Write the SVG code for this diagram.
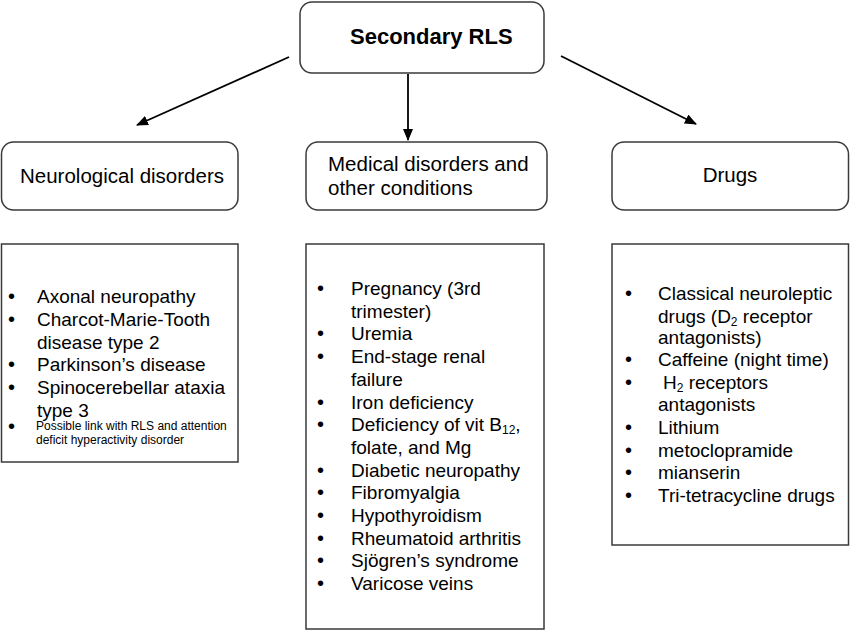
<svg xmlns="http://www.w3.org/2000/svg" width="850" height="631" viewBox="0 0 850 631">
<style>
.box{fill:#fff;stroke:#3a3a3a;stroke-width:1.5}
.t{font-family:"Liberation Sans",Arial,sans-serif;fill:#000}
.h{font-size:20.5px}
.l{font-size:19px}
.s{font-size:12px}
.b{font-size:20px}
.sub{font-size:12px}
.con{stroke:#000;stroke-width:1.8;fill:none;marker-end:url(#ah)}
</style>
<defs>
<marker id="ah" viewBox="0 0 12 10" refX="11" refY="5" markerWidth="12" markerHeight="10" markerUnits="userSpaceOnUse" orient="auto">
<path d="M0,0 L12,5 L0,10 z" fill="#000"/>
</marker>
</defs>
<rect width="850" height="631" fill="#fff"/>
<g id="connectors">
<line class="con" x1="289" y1="57" x2="137" y2="125"/>
<line class="con" x1="408" y1="74" x2="408" y2="140"/>
<line class="con" x1="561" y1="56" x2="696" y2="124"/>
</g>
<g id="secondary-rls">
<rect class="box" x="300" y="2" width="244" height="71" rx="12"/>
<text class="t" x="350" y="44" font-size="22" font-weight="bold">Secondary RLS</text>
</g>
<g id="neurological">
<rect class="box" x="1.5" y="142" width="236.5" height="68" rx="12"/>
<text class="t h" x="20" y="183">Neurological disorders</text>
</g>
<g id="medical">
<rect class="box" x="306" y="142" width="241" height="68" rx="12"/>
<text class="t h" x="328" y="171">Medical disorders and</text>
<text class="t h" x="328" y="195">other conditions</text>
</g>
<g id="drugs">
<rect class="box" x="612" y="142" width="236.5" height="68" rx="12"/>
<text class="t h" x="730" y="182" text-anchor="middle">Drugs</text>
</g>
<g id="neurological-list">
<rect class="box" x="1.5" y="244" width="236.5" height="218"/>
<g class="t b">
<text x="8" y="303">•</text>
<text x="8" y="326">•</text>
<text x="8" y="371">•</text>
<text x="8" y="394">•</text>
<text x="8" y="433">•</text>
</g>
<g class="t l">
<text x="37" y="303">Axonal neuropathy</text>
<text x="37" y="326">Charcot-Marie-Tooth</text>
<text x="37" y="348.5">disease type 2</text>
<text x="37" y="371">Parkinson’s disease</text>
<text x="37" y="394">Spinocerebellar ataxia</text>
<text x="37" y="416.5">type 3</text>
</g>
<g class="t s">
<text x="36" y="430">Possible link with RLS and attention</text>
<text x="36" y="443.5">deficit hyperactivity disorder</text>
</g>
</g>
<g id="medical-list">
<rect class="box" x="306" y="244" width="238" height="385"/>
<g class="t b">
<text x="317" y="295">•</text>
<text x="317" y="340.4">•</text>
<text x="317" y="363">•</text>
<text x="317" y="408.5">•</text>
<text x="317" y="431">•</text>
<text x="317" y="476.6">•</text>
<text x="317" y="499.3">•</text>
<text x="317" y="522">•</text>
<text x="317" y="544.7">•</text>
<text x="317" y="567.4">•</text>
<text x="317" y="590">•</text>
</g>
<g class="t l">
<text x="351" y="295">Pregnancy (3rd</text>
<text x="351" y="317.7">trimester)</text>
<text x="351" y="340.4">Uremia</text>
<text x="351" y="363">End-stage renal</text>
<text x="351" y="385.8">failure</text>
<text x="351" y="408.5">Iron deficiency</text>
<text x="351" y="431">Deficiency of vit B<tspan class="sub" dy="3">12</tspan><tspan dy="-3">,</tspan></text>
<text x="351" y="454">folate, and Mg</text>
<text x="351" y="476.6">Diabetic neuropathy</text>
<text x="351" y="499.3">Fibromyalgia</text>
<text x="351" y="522">Hypothyroidism</text>
<text x="351" y="544.7">Rheumatoid arthritis</text>
<text x="351" y="567.4">Sjögren’s syndrome</text>
<text x="351" y="590">Varicose veins</text>
</g>
</g>
<g id="drugs-list">
<rect class="box" x="612" y="244" width="236.5" height="301"/>
<g class="t b">
<text x="625" y="300">•</text>
<text x="625" y="366">•</text>
<text x="625" y="389">•</text>
<text x="625" y="434">•</text>
<text x="625" y="456.5">•</text>
<text x="625" y="479">•</text>
<text x="625" y="502">•</text>
</g>
<g class="t l">
<text x="658" y="300">Classical neuroleptic</text>
<text x="658" y="322.5">drugs (D<tspan class="sub" dy="3">2</tspan><tspan dy="-3"> receptor</tspan></text>
<text x="658" y="344">antagonists)</text>
<text x="658" y="366">Caffeine (night time)</text>
<text x="663" y="389">H<tspan class="sub" dy="3">2</tspan><tspan dy="-3"> receptors</tspan></text>
<text x="658" y="411">antagonists</text>
<text x="658" y="434">Lithium</text>
<text x="658" y="456.5">metoclopramide</text>
<text x="658" y="479">mianserin</text>
<text x="658" y="502">Tri-tetracycline drugs</text>
</g>
</g>
</svg>
